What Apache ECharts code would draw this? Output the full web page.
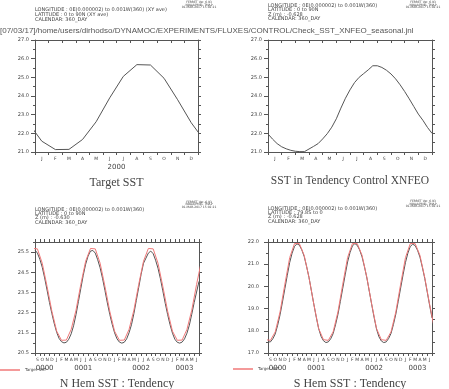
<!DOCTYPE html>
<html><head><meta charset="utf-8">
<script src="https://cdn.jsdelivr.net/npm/echarts@6/dist/echarts.min.js"></script>
<style>html,body{margin:0;padding:0;background:#fff}#c{width:449px;height:389px}</style>
</head><body><div id="c"></div>
<script>
// ---------- data ----------
const monthLetters = ['J','F','M','A','M','J','J','A','S','O','N','D'];
// Target SST (N Hem), mid-month values Jan..Dec
const targetNH = [21.58, 21.13, 21.14, 21.67, 22.62, 23.90, 25.05, 25.68, 25.66, 24.95, 23.80, 22.57];
// Target SST (S Hem), mid-month values Jan..Dec
const targetSH = [21.30, 21.93, 21.93, 21.40, 20.40, 19.20, 18.10, 17.60, 17.57, 17.95, 18.85, 20.10];
// SST in Tendency Control XNFEO, every 10 days from day 0 to day 360
const xnfeoStepDays = 10;
const xnfeoSST = [21.97, 21.69, 21.45, 21.28, 21.17, 21.09, 21.04, 21.02, 21.02, 21.16,
  21.30, 21.45, 21.70, 21.98, 22.33, 22.78, 23.35, 23.88, 24.33, 24.72,
  25.00, 25.20, 25.40, 25.62, 25.62, 25.53, 25.38, 25.18, 24.92, 24.60,
  24.24, 23.85, 23.44, 23.03, 22.70, 22.32, 22.00];
// Model N Hem / S Hem SST, every half month from 1 Sep 0000 to 1 Jul 0003
const nhModel = [25.60, 25.45, 25.15, 24.75, 24.22, 23.62, 23.00, 22.45,
  21.95, 21.52, 21.22, 21.06, 21.00, 21.03, 21.18, 21.45, 21.85, 22.40, 23.05, 23.70,
  24.35, 24.90, 25.30, 25.55, 25.58, 25.45, 25.12, 24.72, 24.20, 23.60, 22.98, 22.42,
  21.92, 21.50, 21.20, 21.04, 20.99, 21.03, 21.20, 21.50, 21.90, 22.45, 23.10, 23.75,
  24.40, 24.95, 25.20, 25.45, 25.55, 25.42, 25.10, 24.70, 24.18, 23.58, 22.96, 22.40,
  21.90, 21.48, 21.18, 21.03, 20.99, 21.04, 21.20, 21.48, 21.88, 22.42, 23.00, 23.52, 24.05];
const shModel = [17.50, 17.50, 17.64, 17.86, 18.25, 18.72, 19.30, 19.90,
  20.50, 21.08, 21.50, 21.80, 21.92, 21.86, 21.65, 21.35, 20.90, 20.40, 19.80, 19.20,
  18.62, 18.10, 17.75, 17.55, 17.47, 17.50, 17.64, 17.87, 18.27, 18.74, 19.32, 19.92,
  20.52, 21.10, 21.52, 21.82, 21.93, 21.85, 21.64, 21.33, 20.88, 20.38, 19.78, 19.18,
  18.60, 18.08, 17.73, 17.54, 17.47, 17.50, 17.65, 17.88, 18.28, 18.75, 19.33, 19.93,
  20.52, 21.08, 21.50, 21.80, 21.90, 21.84, 21.63, 21.32, 20.86, 20.36, 19.76, 19.16, 18.58];
const longStartMonth = 8;      // September
const longMonths = 34;         // Sep 0000 .. Jun 0003
const longYears = ['0000', '0001', '0002', '0003'];
const longYearBounds = [0, 4, 16, 28, 34];
const shortYear = '2000';
const yLabels1 = [21.0, 22.0, 23.0, 24.0, 25.0, 26.0, 27.0];
const yLabels3 = [20.5, 21.5, 22.5, 23.5, 24.5, 25.5];
const yLabels4 = [17.0, 18.0, 19.0, 20.0, 21.0, 22.0];

// ---------- build ----------
const AX = '#555', TX = '#444', RED = '#f07878', BLK = '#555';
const chart = echarts.init(document.getElementById('c'));
const grids = [
  {left: 35, top: 40, width: 163, height: 112},
  {left: 268, top: 40, width: 164, height: 112},
  {left: 35, top: 242, width: 164, height: 111},
  {left: 268, top: 242, width: 164, height: 111}
];
const xAxis = [], yAxis = [], series = [];
function range(a, b, s) { const r = []; for (let v = a; v <= b + 1e-9; v += s) r.push(+v.toFixed(3)); return r; }

function addPanel(gi, nMonths, startMonth, years, yearBounds, yMin, yMax, majors, topInside, labelMargin) {
  const xi = xAxis.length;
  const mids = range(0.5, nMonths - 0.5, 1);
  xAxis.push({type: 'value', gridIndex: gi, min: 0, max: nMonths, position: 'bottom',
    splitLine: {show: false},
    axisLine: {show: true, onZero: false, lineStyle: {color: AX, width: 1}},
    axisTick: {show: true, length: 3, customValues: range(0, nMonths, 1), lineStyle: {color: AX}},
    axisLabel: {show: true, customValues: mids, fontSize: 4.5, margin: 4, color: TX, fontFamily: 'DejaVu Sans',
      formatter: v => monthLetters[(startMonth + Math.floor(v)) % 12]}});
  xAxis.push({type: 'value', gridIndex: gi, min: 0, max: nMonths, position: 'top',
    splitLine: {show: false},
    axisLine: {show: true, onZero: false, lineStyle: {color: AX, width: 1}},
    axisTick: {show: true, inside: topInside, length: 3, customValues: range(0, nMonths, 1), lineStyle: {color: AX}},
    axisLabel: {show: false}});
  if (years) {
    const centers = [];
    for (let i = 0; i < years.length; i++) centers.push((yearBounds[i] + yearBounds[i + 1]) / 2);
    xAxis.push({type: 'value', gridIndex: gi, min: 0, max: nMonths, position: 'bottom',
      splitLine: {show: false}, axisLine: {show: false, onZero: false}, axisTick: {show: false},
      axisLabel: {show: true, customValues: centers, fontSize: 7, margin: 11.5, color: TX, fontFamily: 'DejaVu Sans',
        formatter: v => years[centers.indexOf(v)]}});
  }
  const yi = yAxis.length;
  const halves = range(yMin, yMax, 0.5);
  const minors = halves.filter(v => majors.indexOf(v) < 0);
  yAxis.push({type: 'value', gridIndex: gi, min: yMin, max: yMax, position: 'left',
    splitLine: {show: false},
    axisLine: {show: true, onZero: false, lineStyle: {color: AX, width: 1}},
    axisTick: {show: true, length: 4, customValues: majors, lineStyle: {color: AX}},
    axisLabel: {show: true, customValues: majors, fontSize: 5, margin: labelMargin, color: TX, fontFamily: 'DejaVu Sans',
      formatter: v => v.toFixed(1)}});
  yAxis.push({type: 'value', gridIndex: gi, min: yMin, max: yMax, position: 'left',
    splitLine: {show: false}, axisLine: {show: false, onZero: false},
    axisTick: {show: true, length: 2, customValues: minors, lineStyle: {color: AX}},
    axisLabel: {show: false}});
  yAxis.push({type: 'value', gridIndex: gi, min: yMin, max: yMax, position: 'right',
    splitLine: {show: false},
    axisLine: {show: true, onZero: false, lineStyle: {color: AX, width: 1}},
    axisTick: {show: true, length: 3, customValues: halves, lineStyle: {color: AX}},
    axisLabel: {show: false}});
  return {xi, yi};
}

// target as mid-month points, extended one month each side (clipped by the grid)
function targetSeries(target, startMonth, nMonths) {
  const d = [];
  for (let i = -1; i <= nMonths; i++) d.push([i + 0.5, target[((startMonth + i) % 12 + 12) % 12]]);
  return d;
}
function lineSeries(name, data, ax, color) {
  return {type: 'line', name, data, xAxisIndex: ax.xi, yAxisIndex: ax.yi, showSymbol: false, symbol: 'none',
    clip: true, animation: false, lineStyle: {color, width: 1}, itemStyle: {color}};
}

const a1 = addPanel(0, 12, 0, [shortYear], [0, 12], 21, 27, yLabels1, true, 6);
series.push(lineSeries('Target', targetSeries(targetNH, 0, 12), a1, BLK));

const a2 = addPanel(1, 12, 0, null, null, 21, 27, yLabels1, true, 6);
series.push(lineSeries('XNFEO', xnfeoSST.map((v, i) => [i * xnfeoStepDays / 30, v]), a2, BLK));

const a3 = addPanel(2, longMonths, longStartMonth, longYears, longYearBounds, 20.5, 26.0, yLabels3, false, 6);
series.push(lineSeries('NH model', nhModel.map((v, i) => [i * 0.5, v]), a3, BLK));
series.push(lineSeries('Target SST', targetSeries(targetNH, longStartMonth, longMonths), a3, RED));

const a4 = addPanel(3, longMonths, longStartMonth, longYears, longYearBounds, 17.0, 22.0, yLabels4, false, 9);
series.push(lineSeries('SH model', shModel.map((v, i) => [i * 0.5, v]), a4, BLK));
series.push(lineSeries('Target SST', targetSeries(targetSH, longStartMonth, longMonths), a4, RED));

function txt(x, y, s, size, opts) {
  return Object.assign({type: 'text', x, y, silent: true,
    style: Object.assign({text: s, fontSize: size, fill: TX, fontFamily: 'DejaVu Sans', verticalAlign: 'middle', align: 'left'}, opts || {})});
}
const ttl = {fontFamily: 'Liberation Serif', fill: '#444', align: 'center'};
const stamp = ['FERRET Ver. 6.93', 'NOAA/PMEL TMAP', '01-MAR-2017 15:02:21'];
const graphic = [
  txt(0, 31, '[07/03/17]/home/users/dirhodso/DYNAMOC/EXPERIMENTS/FLUXES/CONTROL/Check_SST_XNFEO_seasonal.jnl', 8, {fontFamily: 'Liberation Sans', fill: '#555'}),
  txt(35, 10, 'LONGITUDE : 0E(0.000002) to 0.001W(360) (XY ave)', 5),
  txt(35, 14.7, 'LATITUDE : 0 to 90N (XY ave)', 5),
  txt(35, 19.3, 'CALENDAR: 360_DAY', 5),
  txt(268, 5.7, 'LONGITUDE : 0E(0.000002) to 0.001W(360)', 5),
  txt(268, 10, 'LATITUDE : 0 to 90N', 5),
  txt(268, 14.3, 'Z (m) : -0.628', 5),
  txt(268, 18.7, 'CALENDAR: 360_DAY', 5),
  txt(35, 209.3, 'LONGITUDE : 0E(0.000002) to 0.001W(360)', 5),
  txt(35, 213.7, 'LATITUDE : 0 to 90N', 5),
  txt(35, 218, 'Z (m) : -0.630', 5),
  txt(35, 222.3, 'CALENDAR: 360_DAY', 5),
  txt(268, 208.3, 'LONGITUDE : 0E(0.000002) to 0.001W(360)', 5),
  txt(268, 212.7, 'LATITUDE : 79.8S to 0', 5),
  txt(268, 217, 'Z (m) : -0.628', 5),
  txt(268, 221.3, 'CALENDAR: 360_DAY', 5),
  txt(116.5, 183, 'Target SST', 12, ttl),
  txt(350, 181, 'SST in Tendency Control XNFEO', 11.5, ttl),
  txt(117, 383.5, 'N Hem SST : Tendency', 12, ttl),
  txt(350, 383.5, 'S Hem SST : Tendency', 12, ttl)
];
[[199, 2.7], [423, 2.5], [199, 202], [423, 201.5]].forEach(p => {
  stamp.forEach((s, i) => graphic.push(txt(p[0], p[1] + i * 2.4, s, 3, {align: 'center'})));
});

const legendBase = {data: ['Target SST'], itemWidth: 20, itemHeight: 1.5, icon: 'rect', padding: 0, selectedMode: false,
  itemStyle: {color: RED}, textStyle: {fontSize: 4, color: TX, fontFamily: 'DejaVu Sans'}};
chart.setOption({
  animation: false,
  backgroundColor: '#fff',
  grid: grids,
  xAxis, yAxis, series, graphic,
  legend: [
    Object.assign({left: 0, top: 368}, legendBase),
    Object.assign({left: 233, top: 367}, legendBase)
  ]
});
</script></body></html>
